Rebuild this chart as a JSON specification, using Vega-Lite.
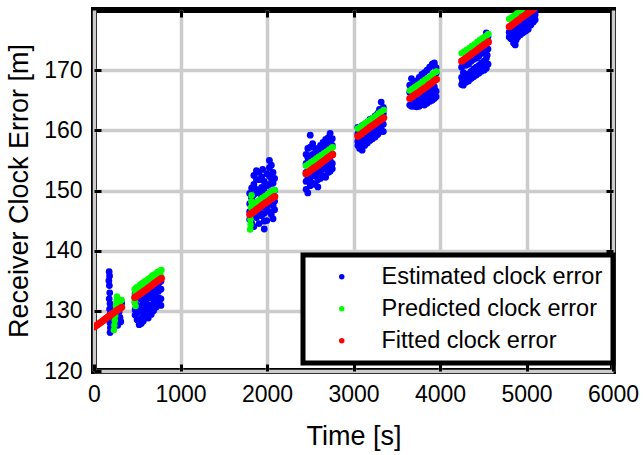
{
  "$schema": "https://vega.github.io/schema/vega-lite/v6.json",
  "width": 519,
  "height": 361,
  "autosize": {"type": "none"},
  "padding": {"left": 94, "top": 10, "right": 30, "bottom": 84},
  "background": "white",
  "config": {
    "view": {"stroke": "black", "strokeWidth": 6},
    "font": "Liberation Sans",
    "axis": {
      "labelFont": "Liberation Sans",
      "titleFont": "Liberation Sans",
      "labelColor": "black",
      "titleColor": "black",
      "titleFontWeight": "normal",
      "labelFontSize": 23,
      "titleFontSize": 27,
      "gridColor": "#cccccc",
      "gridWidth": 3.5,
      "gridOpacity": 1,
      "tickColor": "black",
      "tickWidth": 3,
      "tickSize": -7,
      "domain": false,
      "format": "d"
    },
    "legend": {
      "strokeColor": "black",
      "strokeWidth": 5,
      "fillColor": "white",
      "padding": 10,
      "labelFont": "Liberation Sans",
      "labelFontSize": 23.5,
      "labelColor": "black",
      "labelLimit": 400,
      "symbolSize": 30,
      "symbolOffset": 17,
      "labelOffset": 28,
      "rowPadding": 7
    }
  },
  "datasets": {
    "est": [
      {"t":175,"v":136.5},{"t":180,"v":135.8},{"t":172,"v":135.0},{"t":178,"v":134.2},{"t":182,"v":133.0},{"t":176,"v":132.0},{"t":185,"v":131.2},{"t":180,"v":130.3},{"t":188,"v":129.5},{"t":178,"v":128.8},{"t":184,"v":128.0},{"t":190,"v":127.2},{"t":186,"v":126.4},{"t":200,"v":129.0},{"t":210,"v":128.2},{"t":230,"v":128.6},{"t":250,"v":129.5},{"t":270,"v":131.5},{"t":280,"v":130.6},{"t":290,"v":129.8},{"t":300,"v":128.9},{"t":310,"v":128.2},{"t":275,"v":127.6},{"t":295,"v":131.0},{"t":320,"v":131.3},{"t":260,"v":128.0},{"t":240,"v":130.4},{"t":215,"v":130.0},{"t":205,"v":127.5},
      {"t":475,"v":132.8},{"t":475,"v":131.4},{"t":475,"v":130.2},{"t":475,"v":129.3},
      {"t":498,"v":133.1},{"t":498,"v":130.9},{"t":498,"v":129.7},{"t":498,"v":128.5},
      {"t":522,"v":132.3},{"t":522,"v":130.6},{"t":522,"v":128.1},{"t":522,"v":127.7},
      {"t":547,"v":131.9},{"t":547,"v":130.1},{"t":547,"v":128.8},{"t":547,"v":127.9},
      {"t":571,"v":132.6},{"t":571,"v":131.2},{"t":571,"v":129.4},{"t":571,"v":128.3},
      {"t":602,"v":133.0},{"t":602,"v":131.8},{"t":602,"v":130.3},{"t":602,"v":129.0},
      {"t":628,"v":132.7},{"t":628,"v":131.0},{"t":628,"v":129.9},{"t":628,"v":128.8},
      {"t":661,"v":133.5},{"t":661,"v":132.1},{"t":661,"v":130.6},{"t":661,"v":129.4},
      {"t":689,"v":133.9},{"t":689,"v":132.5},{"t":689,"v":131.2},{"t":689,"v":130.0},
      {"t":718,"v":134.3},{"t":718,"v":133.0},{"t":718,"v":131.7},{"t":718,"v":130.6},
      {"t":748,"v":134.6},{"t":748,"v":133.3},{"t":748,"v":132.2},{"t":748,"v":131.1},
      {"t":774,"v":134.9},{"t":774,"v":133.6},{"t":774,"v":132.0},{"t":774,"v":130.9},
      {"t":1800,"v":149.5},{"t":1800,"v":147.8},{"t":1800,"v":145.2},{"t":1800,"v":146.5},
      {"t":1822,"v":150.4},{"t":1822,"v":148.7},{"t":1822,"v":144.6},{"t":1822,"v":146.8},
      {"t":1848,"v":151.0},{"t":1848,"v":149.3},{"t":1848,"v":146.8},{"t":1848,"v":144.0},{"t":1848,"v":152.5},
      {"t":1878,"v":153.3},{"t":1878,"v":150.2},{"t":1878,"v":148.0},{"t":1878,"v":145.5},{"t":1878,"v":151.8},{"t":1878,"v":146.8},
      {"t":1908,"v":151.8},{"t":1908,"v":149.6},{"t":1908,"v":146.4},{"t":1908,"v":144.5},{"t":1908,"v":148.0},{"t":1910,"v":153.0},
      {"t":1938,"v":152.2},{"t":1938,"v":150.5},{"t":1938,"v":148.9},{"t":1938,"v":145.8},{"t":1938,"v":147.2},{"t":1950,"v":153.5},
      {"t":1968,"v":151.5},{"t":1968,"v":149.9},{"t":1968,"v":146.2},{"t":1968,"v":143.6},{"t":1968,"v":148.0},{"t":1968,"v":144.9},
      {"t":1998,"v":152.8},{"t":1998,"v":150.8},{"t":1998,"v":147.1},{"t":1998,"v":145.0},{"t":1998,"v":149.0},
      {"t":2028,"v":155.0},{"t":2028,"v":153.8},{"t":2028,"v":151.0},{"t":2028,"v":146.5},{"t":2028,"v":152.4},{"t":2028,"v":148.8},
      {"t":2050,"v":154.2},{"t":2050,"v":152.0},{"t":2050,"v":149.8},{"t":2050,"v":146.0},{"t":2050,"v":147.8},
      {"t":2070,"v":153.0},{"t":2070,"v":151.2},{"t":2070,"v":147.5},{"t":2070,"v":145.3},{"t":2070,"v":149.3},
      {"t":2088,"v":152.0},{"t":2088,"v":150.0},{"t":2088,"v":146.8},{"t":2088,"v":148.2},
      {"t":2452,"v":156.0},{"t":2452,"v":154.5},{"t":2452,"v":151.5},{"t":2452,"v":150.2},{"t":2452,"v":153.0},
      {"t":2472,"v":157.0},{"t":2472,"v":152.0},{"t":2472,"v":149.6},{"t":2472,"v":155.5},
      {"t":2500,"v":159.2},{"t":2500,"v":157.2},{"t":2500,"v":152.3},{"t":2500,"v":150.8},{"t":2500,"v":155.8},{"t":2500,"v":151.6},
      {"t":2528,"v":157.8},{"t":2528,"v":156.0},{"t":2528,"v":152.6},{"t":2528,"v":151.2},{"t":2528,"v":154.0},
      {"t":2558,"v":157.0},{"t":2558,"v":155.5},{"t":2558,"v":152.4},{"t":2558,"v":151.0},{"t":2558,"v":153.8},
      {"t":2588,"v":156.5},{"t":2588,"v":153.0},{"t":2588,"v":151.8},{"t":2588,"v":155.0},{"t":2588,"v":150.6},
      {"t":2618,"v":157.5},{"t":2618,"v":156.8},{"t":2618,"v":153.2},{"t":2618,"v":152.0},{"t":2618,"v":155.0},
      {"t":2648,"v":158.0},{"t":2648,"v":157.4},{"t":2648,"v":153.5},{"t":2648,"v":152.4},{"t":2648,"v":155.8},
      {"t":2678,"v":158.5},{"t":2678,"v":157.0},{"t":2678,"v":154.0},{"t":2678,"v":152.2},{"t":2678,"v":155.5},
      {"t":2708,"v":158.8},{"t":2708,"v":157.6},{"t":2708,"v":154.4},{"t":2708,"v":153.0},{"t":2708,"v":156.2},
      {"t":2730,"v":159.5},{"t":2730,"v":157.8},{"t":2730,"v":155.0},{"t":2730,"v":153.2},{"t":2730,"v":156.5},{"t":2740,"v":154.0},
      {"t":2755,"v":158.6},{"t":2755,"v":157.5},{"t":2755,"v":154.5},{"t":2755,"v":153.6},{"t":2755,"v":156.0},
      {"t":3050,"v":160.5},{"t":3050,"v":158.2},{"t":3050,"v":157.5},{"t":3050,"v":159.4},
      {"t":3070,"v":159.6},{"t":3070,"v":157.8},{"t":3070,"v":157.0},{"t":3080,"v":158.5},
      {"t":3100,"v":160.8},{"t":3100,"v":158.6},{"t":3100,"v":156.7},{"t":3110,"v":157.7},
      {"t":3130,"v":161.0},{"t":3130,"v":159.0},{"t":3130,"v":157.5},{"t":3140,"v":158.2},
      {"t":3160,"v":161.3},{"t":3160,"v":159.2},{"t":3160,"v":157.9},{"t":3170,"v":158.6},
      {"t":3190,"v":161.8},{"t":3190,"v":159.5},{"t":3190,"v":158.3},{"t":3200,"v":158.9},
      {"t":3220,"v":162.0},{"t":3220,"v":159.9},{"t":3220,"v":158.6},{"t":3230,"v":159.2},
      {"t":3250,"v":162.4},{"t":3250,"v":160.2},{"t":3250,"v":158.9},{"t":3260,"v":159.6},
      {"t":3280,"v":162.8},{"t":3280,"v":160.6},{"t":3280,"v":159.3},{"t":3290,"v":160.0},
      {"t":3300,"v":163.5},{"t":3300,"v":161.0},{"t":3300,"v":159.7},{"t":3310,"v":162.0},
      {"t":3320,"v":164.7},{"t":3320,"v":163.2},{"t":3320,"v":160.2},{"t":3330,"v":161.5},
      {"t":3345,"v":163.8},{"t":3345,"v":162.8},{"t":3345,"v":161.0},{"t":3345,"v":159.8},
      {"t":3650,"v":167.5},{"t":3650,"v":166.3},{"t":3650,"v":164.2},
      {"t":3670,"v":168.6},{"t":3670,"v":164.0},{"t":3680,"v":165.2},
      {"t":3700,"v":167.9},{"t":3700,"v":165.0},{"t":3700,"v":164.0},
      {"t":3730,"v":168.2},{"t":3730,"v":164.6},{"t":3730,"v":163.9},{"t":3740,"v":165.5},
      {"t":3760,"v":168.8},{"t":3760,"v":165.3},{"t":3760,"v":164.0},
      {"t":3790,"v":169.3},{"t":3790,"v":165.6},{"t":3790,"v":164.3},{"t":3800,"v":164.9},
      {"t":3820,"v":169.6},{"t":3820,"v":166.0},{"t":3820,"v":164.2},
      {"t":3850,"v":170.0},{"t":3850,"v":166.2},{"t":3850,"v":164.5},{"t":3860,"v":165.4},
      {"t":3880,"v":170.5},{"t":3880,"v":166.5},{"t":3880,"v":164.8},
      {"t":3910,"v":171.0},{"t":3910,"v":166.8},{"t":3910,"v":165.0},{"t":3920,"v":165.9},
      {"t":3935,"v":171.2},{"t":3935,"v":167.2},{"t":3935,"v":165.3},
      {"t":3955,"v":170.4},{"t":3955,"v":169.5},{"t":3955,"v":166.5},{"t":3955,"v":165.6},
      {"t":4250,"v":170.5},{"t":4250,"v":168.8},{"t":4250,"v":167.6},{"t":4260,"v":168.2},
      {"t":4270,"v":169.6},{"t":4270,"v":167.5},{"t":4290,"v":168.5},
      {"t":4300,"v":170.8},{"t":4300,"v":169.0},{"t":4300,"v":168.0},{"t":4320,"v":168.8},
      {"t":4330,"v":171.0},{"t":4330,"v":169.4},{"t":4330,"v":168.2},{"t":4350,"v":169.1},
      {"t":4360,"v":171.5},{"t":4360,"v":169.8},{"t":4360,"v":168.6},{"t":4380,"v":169.4},
      {"t":4390,"v":171.8},{"t":4390,"v":170.2},{"t":4390,"v":168.9},{"t":4410,"v":169.8},
      {"t":4420,"v":172.0},{"t":4420,"v":170.5},{"t":4420,"v":169.2},{"t":4440,"v":170.1},
      {"t":4450,"v":172.3},{"t":4450,"v":170.8},{"t":4450,"v":169.5},{"t":4470,"v":170.4},
      {"t":4480,"v":172.8},{"t":4480,"v":171.2},{"t":4480,"v":169.8},{"t":4500,"v":170.7},
      {"t":4510,"v":173.2},{"t":4510,"v":171.5},{"t":4510,"v":170.0},{"t":4525,"v":171.0},
      {"t":4535,"v":176.2},{"t":4535,"v":174.8},{"t":4535,"v":172.0},{"t":4535,"v":170.3},{"t":4545,"v":172.5},
      {"t":4555,"v":175.6},{"t":4555,"v":173.5},{"t":4555,"v":171.0},
      {"t":4800,"v":176.3},{"t":4800,"v":175.5},{"t":4810,"v":175.8},
      {"t":4820,"v":177.0},{"t":4820,"v":176.0},{"t":4820,"v":175.2},{"t":4840,"v":175.2},
      {"t":4850,"v":176.8},{"t":4850,"v":175.8},{"t":4850,"v":174.5},
      {"t":4870,"v":177.0},{"t":4870,"v":176.0},{"t":4870,"v":174.2},{"t":4880,"v":175.0},
      {"t":4900,"v":177.3},{"t":4900,"v":176.4},{"t":4900,"v":175.5},{"t":4915,"v":176.0},
      {"t":4930,"v":177.6},{"t":4930,"v":176.8},{"t":4930,"v":175.9},{"t":4945,"v":176.4},
      {"t":4960,"v":178.0},{"t":4960,"v":177.0},{"t":4960,"v":176.2},{"t":4975,"v":176.8},
      {"t":4990,"v":178.3},{"t":4990,"v":177.4},{"t":4990,"v":176.5},{"t":5005,"v":177.2},
      {"t":5020,"v":178.6},{"t":5020,"v":177.8},{"t":5020,"v":176.8},{"t":5035,"v":177.8},
      {"t":5050,"v":179.0},{"t":5050,"v":178.3},{"t":5050,"v":177.5},{"t":5065,"v":178.3},
      {"t":5080,"v":179.6},{"t":5080,"v":178.8},{"t":5080,"v":178.0},{"t":5090,"v":178.8},
      {"t":5100,"v":180.0},{"t":5100,"v":179.2},{"t":5100,"v":178.4}
    ],
    "pred": [
      {"t":230,"v":126.8},{"t":235,"v":127.6},{"t":240,"v":128.4},{"t":245,"v":129.2},{"t":250,"v":130.0},{"t":255,"v":130.8},{"t":260,"v":131.6},{"t":265,"v":132.4},{"t":275,"v":132.0},{"t":290,"v":131.5},{"t":305,"v":131.7},{"t":320,"v":131.8},{"t":285,"v":130.5},{"t":300,"v":130.9},
      {"t":470,"v":131.5},{"t":480,"v":130.8},
      {"t":470,"v":133.6},{"t":490,"v":133.9},{"t":510,"v":134.0},{"t":530,"v":134.3},{"t":550,"v":134.5},{"t":570,"v":134.7},{"t":590,"v":134.9},{"t":610,"v":135.1},{"t":630,"v":135.3},{"t":650,"v":135.5},{"t":670,"v":135.8},{"t":690,"v":136.0},{"t":710,"v":136.1},{"t":730,"v":136.4},{"t":750,"v":136.5},{"t":770,"v":136.7},{"t":780,"v":136.8},
      {"t":480,"v":132.9},{"t":540,"v":133.5},{"t":600,"v":134.1},{"t":660,"v":134.8},{"t":720,"v":135.4},{"t":770,"v":135.9},
      {"t":1805,"v":143.5},{"t":1810,"v":144.3},{"t":1808,"v":145.2},{"t":1812,"v":146.2},{"t":1815,"v":147.2},{"t":1818,"v":148.2},{"t":1822,"v":149.2},
      {"t":1830,"v":147.6},{"t":1860,"v":147.9},{"t":1890,"v":148.2},{"t":1920,"v":148.5},{"t":1950,"v":148.8},{"t":1980,"v":149.1},{"t":2010,"v":149.4},{"t":2040,"v":149.7},{"t":2070,"v":150.0},{"t":2090,"v":150.1},
      {"t":2450,"v":154.1},{"t":2480,"v":154.4},{"t":2510,"v":154.7},{"t":2540,"v":155.0},{"t":2570,"v":155.3},{"t":2600,"v":155.6},{"t":2630,"v":155.9},{"t":2660,"v":156.2},{"t":2690,"v":156.5},{"t":2720,"v":156.8},{"t":2750,"v":157.1},{"t":2760,"v":157.2},
      {"t":3050,"v":160.3},{"t":3080,"v":160.6},{"t":3110,"v":160.9},{"t":3140,"v":161.2},{"t":3170,"v":161.5},{"t":3200,"v":161.8},{"t":3230,"v":162.1},{"t":3260,"v":162.4},{"t":3290,"v":162.8},{"t":3320,"v":163.1},{"t":3350,"v":163.4},
      {"t":3650,"v":166.6},{"t":3680,"v":166.9},{"t":3710,"v":167.2},{"t":3740,"v":167.5},{"t":3770,"v":167.8},{"t":3800,"v":168.1},{"t":3830,"v":168.4},{"t":3860,"v":168.7},{"t":3890,"v":169.0},{"t":3920,"v":169.4},{"t":3950,"v":169.7},{"t":3960,"v":169.8},
      {"t":4250,"v":172.8},{"t":4280,"v":173.1},{"t":4310,"v":173.4},{"t":4340,"v":173.7},{"t":4370,"v":174.0},{"t":4400,"v":174.3},{"t":4430,"v":174.7},{"t":4460,"v":175.0},{"t":4490,"v":175.3},{"t":4520,"v":175.6},{"t":4550,"v":175.9},{"t":4560,"v":176.0},
      {"t":4800,"v":178.5},{"t":4830,"v":178.8},{"t":4860,"v":179.1},{"t":4890,"v":179.4},{"t":4920,"v":179.7},{"t":4950,"v":180.0}
    ],
    "fit": [
      {"t":0,"v":127.3},{"t":20,"v":127.5},{"t":40,"v":127.7},{"t":60,"v":127.9},{"t":80,"v":128.1},{"t":100,"v":128.3},{"t":120,"v":128.55},{"t":140,"v":128.75},{"t":160,"v":128.95},{"t":180,"v":129.2},{"t":200,"v":129.4},{"t":220,"v":129.6},{"t":240,"v":129.8},{"t":260,"v":130.0},{"t":280,"v":130.2},{"t":300,"v":130.4},{"t":320,"v":130.6},
      {"t":470,"v":132.2},{"t":490,"v":132.4},{"t":510,"v":132.6},{"t":530,"v":132.8},{"t":550,"v":133.0},{"t":570,"v":133.2},{"t":590,"v":133.4},{"t":610,"v":133.6},{"t":630,"v":133.85},{"t":650,"v":134.05},{"t":670,"v":134.25},{"t":690,"v":134.5},{"t":710,"v":134.7},{"t":730,"v":134.9},{"t":750,"v":135.1},{"t":770,"v":135.3},{"t":780,"v":135.4},
      {"t":1800,"v":146.0},{"t":1820,"v":146.2},{"t":1840,"v":146.4},{"t":1860,"v":146.6},{"t":1880,"v":146.85},{"t":1900,"v":147.05},{"t":1920,"v":147.25},{"t":1940,"v":147.5},{"t":1960,"v":147.7},{"t":1980,"v":147.9},{"t":2000,"v":148.1},{"t":2020,"v":148.3},{"t":2040,"v":148.5},{"t":2060,"v":148.7},{"t":2080,"v":148.9},{"t":2090,"v":149.0},
      {"t":2450,"v":152.8},{"t":2470,"v":153.0},{"t":2490,"v":153.2},{"t":2510,"v":153.4},{"t":2530,"v":153.6},{"t":2550,"v":153.8},{"t":2570,"v":154.0},{"t":2590,"v":154.2},{"t":2610,"v":154.4},{"t":2630,"v":154.65},{"t":2650,"v":154.85},{"t":2670,"v":155.05},{"t":2690,"v":155.3},{"t":2710,"v":155.5},{"t":2730,"v":155.7},{"t":2750,"v":155.9},{"t":2760,"v":156.0},
      {"t":3050,"v":159.0},{"t":3070,"v":159.2},{"t":3090,"v":159.4},{"t":3110,"v":159.65},{"t":3130,"v":159.85},{"t":3150,"v":160.05},{"t":3170,"v":160.25},{"t":3190,"v":160.5},{"t":3210,"v":160.7},{"t":3230,"v":160.9},{"t":3250,"v":161.1},{"t":3270,"v":161.3},{"t":3290,"v":161.5},{"t":3310,"v":161.7},{"t":3330,"v":161.9},{"t":3350,"v":162.1},
      {"t":3650,"v":165.3},{"t":3670,"v":165.5},{"t":3690,"v":165.7},{"t":3710,"v":165.9},{"t":3730,"v":166.1},{"t":3750,"v":166.3},{"t":3770,"v":166.5},{"t":3790,"v":166.7},{"t":3810,"v":166.9},{"t":3830,"v":167.1},{"t":3850,"v":167.3},{"t":3870,"v":167.55},{"t":3890,"v":167.75},{"t":3910,"v":167.95},{"t":3930,"v":168.2},{"t":3950,"v":168.4},{"t":3960,"v":168.5},
      {"t":4250,"v":171.5},{"t":4270,"v":171.7},{"t":4290,"v":171.9},{"t":4310,"v":172.1},{"t":4330,"v":172.3},{"t":4350,"v":172.5},{"t":4370,"v":172.75},{"t":4390,"v":172.95},{"t":4410,"v":173.15},{"t":4430,"v":173.35},{"t":4450,"v":173.6},{"t":4470,"v":173.8},{"t":4490,"v":174.0},{"t":4510,"v":174.2},{"t":4530,"v":174.4},{"t":4550,"v":174.6},{"t":4560,"v":174.7},
      {"t":4800,"v":177.2},{"t":4820,"v":177.4},{"t":4840,"v":177.6},{"t":4860,"v":177.8},{"t":4880,"v":178.05},{"t":4900,"v":178.25},{"t":4920,"v":178.45},{"t":4940,"v":178.7},{"t":4960,"v":178.9},{"t":4980,"v":179.1},{"t":5000,"v":179.3},{"t":5020,"v":179.5},{"t":5040,"v":179.7},{"t":5060,"v":179.9},{"t":5080,"v":180.1}
    ]
  },
  "resolve": {"axis": {"x": "independent", "y": "independent"}},
  "layer": [
    {
      "data": {"name": "est"},
      "mark": {"type": "circle", "size": 46, "opacity": 1, "clip": true},
      "encoding": {
        "x": {"field": "t", "type": "quantitative", "scale": {"domain": [0, 6000], "nice": false},
          "axis": {"orient": "bottom", "values": [0,1000,2000,3000,4000,5000,6000], "grid": true, "labelPadding": 19, "labelFlush": false, "title": "Time [s]", "titlePadding": 17, "zindex": 0}},
        "y": {"field": "v", "type": "quantitative", "scale": {"domain": [120, 180], "nice": false, "zero": false},
          "axis": {"orient": "left", "values": [120,130,140,150,160,170], "grid": true, "labelPadding": 19, "title": "Receiver Clock Error [m]", "titlePadding": 10, "zindex": 0}},
        "color": {"datum": "Estimated clock error", "type": "nominal",
          "scale": {"domain": ["Estimated clock error", "Predicted clock error", "Fitted clock error"], "range": ["#0000ff", "#00ff00", "#ff0000"]},
          "legend": {"title": null, "orient": "none", "legendX": 209, "legendY": 245, "symbolType": "circle"}}
      }
    },
    {
      "data": {"name": "pred"},
      "mark": {"type": "circle", "size": 42, "opacity": 1, "clip": true},
      "encoding": {
        "x": {"field": "t", "type": "quantitative", "axis": null},
        "y": {"field": "v", "type": "quantitative", "axis": null},
        "color": {"datum": "Predicted clock error", "type": "nominal"}
      }
    },
    {
      "data": {"name": "fit"},
      "mark": {"type": "circle", "size": 50, "opacity": 1, "clip": true},
      "encoding": {
        "x": {"field": "t", "type": "quantitative",
          "axis": {"orient": "top", "values": [1000,2000,3000,4000,5000], "grid": false, "labels": false, "title": null, "zindex": 0}},
        "y": {"field": "v", "type": "quantitative",
          "axis": {"orient": "right", "values": [130,140,150,160,170], "grid": false, "labels": false, "title": null, "zindex": 0}},
        "color": {"datum": "Fitted clock error", "type": "nominal"}
      }
    }
  ]
}
